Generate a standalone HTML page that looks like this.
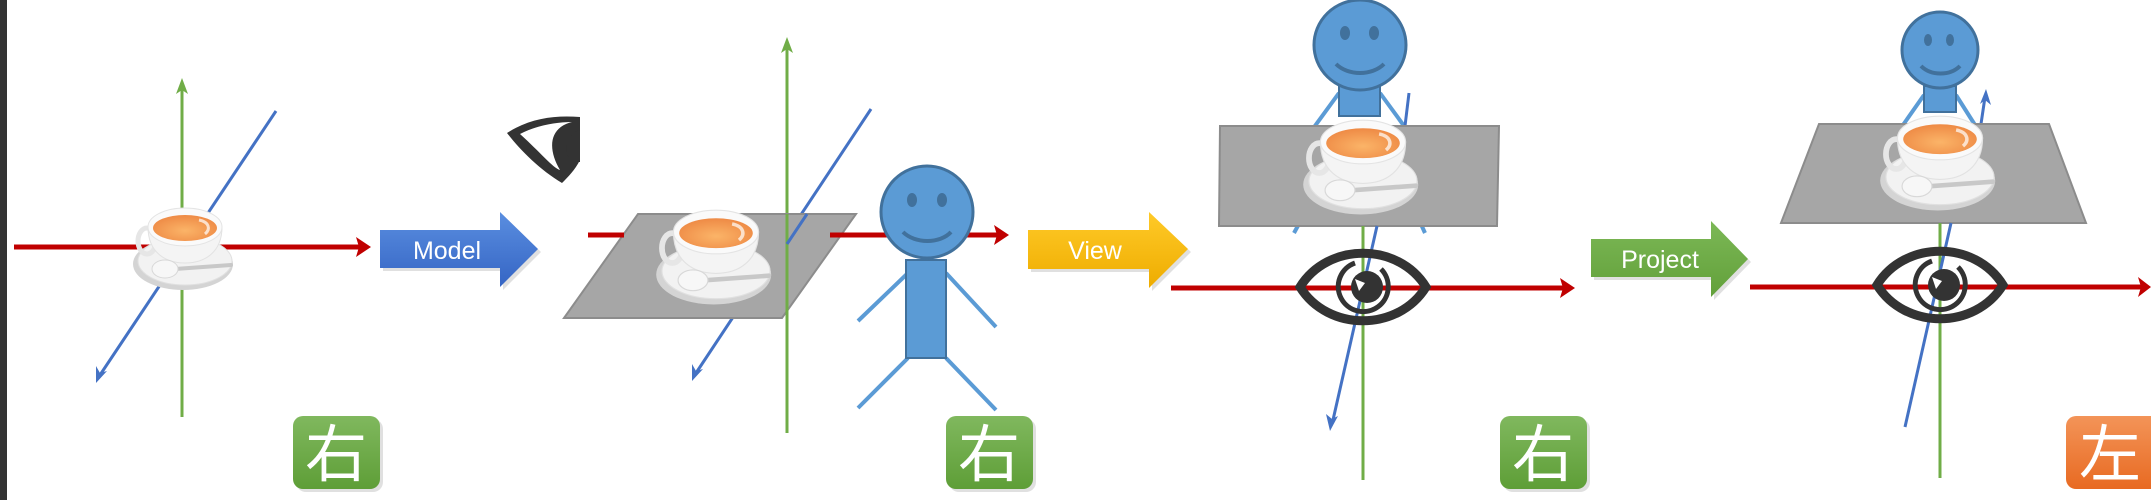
<!DOCTYPE html>
<html><head><meta charset="utf-8"><style>
html,body{margin:0;padding:0;background:#fff}
svg{display:block}
.t{font-family:"Liberation Sans","Noto Sans CJK JP",sans-serif}
</style></head><body>
<svg width="2151" height="500" viewBox="0 0 2151 500" xmlns="http://www.w3.org/2000/svg">
<defs>
<linearGradient id="gb" x1="0" y1="0" x2="0" y2="1"><stop offset="0" stop-color="#5a8ee0"/><stop offset="1" stop-color="#3565c4"/></linearGradient>
<linearGradient id="gy" x1="0" y1="0" x2="0" y2="1"><stop offset="0" stop-color="#ffca28"/><stop offset="1" stop-color="#eeac00"/></linearGradient>
<linearGradient id="gg" x1="0" y1="0" x2="0" y2="1"><stop offset="0" stop-color="#7cb856"/><stop offset="1" stop-color="#62a03a"/></linearGradient>
<linearGradient id="bg" x1="0" y1="0" x2="0" y2="1"><stop offset="0" stop-color="#80b85e"/><stop offset="1" stop-color="#5e9e37"/></linearGradient>
<linearGradient id="bo" x1="0" y1="0" x2="0" y2="1"><stop offset="0" stop-color="#f39458"/><stop offset="1" stop-color="#e86a22"/></linearGradient>
<radialGradient id="tea" cx="0.5" cy="0.6" r="0.6"><stop offset="0" stop-color="#fbb468"/><stop offset="1" stop-color="#ee8a45"/></radialGradient>
<g id="cup">
<ellipse cx="-2" cy="37" rx="50" ry="26" fill="#d4d4d4"/>
<ellipse cx="0" cy="34" rx="47" ry="24" fill="#f2f2f2" stroke="#e0e0e0"/>
<ellipse cx="-38" cy="14" rx="9" ry="13" fill="none" stroke="#e6e6e6" stroke-width="5"/>
<path d="M-37,0 C-37,25 -20,36 0,36 C20,36 37,25 37,0 Z" fill="#f4f4f4" stroke="#e2e2e2"/>
<ellipse cx="0" cy="0" rx="37" ry="19" fill="#fafafa" stroke="#e4e4e4"/>
<ellipse cx="0" cy="1" rx="32" ry="13" fill="url(#tea)"/>
<path d="M14,-7 C24,-5 26,2 20,7" stroke="#fff" stroke-width="3" fill="none" opacity="0.7"/>
<line x1="-10" y1="42" x2="46" y2="38" stroke="#c8c8c8" stroke-width="4" stroke-linecap="round"/>
<ellipse cx="-20" cy="42" rx="13" ry="9" fill="#f7f7f7" stroke="#d8d8d8"/>
</g>
<g id="eye">
<path d="M-63,0 C-35,-45 35,-45 63,0 C35,45 -35,45 -63,0 Z" fill="none" stroke="#333" stroke-width="9"/>
<path d="M-8,-24 A25,25 0 1 0 18,-18" fill="none" stroke="#333" stroke-width="5"/>
<circle cx="4" cy="0" r="16" fill="#333"/>
<path d="M-8,-8 L2,-4 L-4,4 Z" fill="#fff"/>
</g>
</defs>
<rect x="0" y="0" width="7" height="500" fill="#333"/>

<!-- Panel 1 -->
<line x1="182" y1="417" x2="182" y2="88" stroke="#70ad47" stroke-width="3"/>
<path d="M182,78 L176,94 L182,90 L188,94 Z" fill="#70ad47"/>
<line x1="276" y1="111" x2="100" y2="375" stroke="#4472c4" stroke-width="3"/>
<path d="M96,383 L96,366 L100,373 L107,371 Z" fill="#4472c4"/>
<line x1="14" y1="247" x2="360" y2="247" stroke="#c00000" stroke-width="5"/>
<path d="M371,247 L356,237 L359,247 L356,257 Z" fill="#c00000"/>
<use href="#cup" transform="translate(185,227)"/>

<!-- Model arrow -->
<path d="M383,233 L503,233 L503,215 L541,252 L503,290 L503,271 L383,271 Z" fill="#000" opacity="0.12"/>
<path d="M380,230 L500,230 L500,212 L538,249 L500,287 L500,268 L380,268 Z" fill="url(#gb)"/>
<text x="447" y="259" class="t" font-size="25" fill="#fff" text-anchor="middle">Model</text>

<!-- side eye -->
<path d="M507,133 C530,118 555,115 580,117 L580,160 C575,170 568,177 562,183 C540,170 520,150 507,133 Z M520,134 C540,152 553,168 560,170 C548,150 548,128 572,122 C555,122 535,126 520,134 Z" fill="#333" fill-rule="evenodd"/>
<path d="M580,130 C566,134 562,152 572,162 L580,162 Z" fill="#333"/>

<!-- Panel 2 -->
<line x1="787" y1="433" x2="787" y2="47" stroke="#70ad47" stroke-width="3"/>
<path d="M787,37 L781,53 L787,49 L793,53 Z" fill="#70ad47"/>
<line x1="871" y1="109" x2="696" y2="373" stroke="#4472c4" stroke-width="3"/>
<path d="M692,381 L692,364 L696,371 L703,369 Z" fill="#4472c4"/>
<line x1="588" y1="235" x2="1000" y2="235" stroke="#c00000" stroke-width="5"/>
<path d="M1009,235 L994,225 L997,235 L994,245 Z" fill="#c00000"/>
<polygon points="638,214 856,214 782,318 564,318" fill="#a6a6a6" stroke="#8c8c8c" stroke-width="2"/>
<line x1="787" y1="214" x2="787" y2="318" stroke="#70ad47" stroke-width="3"/>
<line x1="807" y1="214" x2="787" y2="244" stroke="#4472c4" stroke-width="3"/>
<line x1="588" y1="235" x2="624" y2="235" stroke="#c00000" stroke-width="5"/>
<line x1="830" y1="235" x2="880" y2="235" stroke="#c00000" stroke-width="5"/>
<use href="#cup" transform="translate(716,232) scale(1.15)"/>
<!-- person -->
<g stroke="#5b9bd5" stroke-width="4">
<line x1="908" y1="273" x2="858" y2="321"/><line x1="946" y1="273" x2="996" y2="327"/>
<line x1="908" y1="358" x2="858" y2="408"/><line x1="946" y1="358" x2="996" y2="410"/>
</g>
<rect x="906" y="260" width="40" height="98" fill="#5b9bd5" stroke="#41719c" stroke-width="2"/>
<ellipse cx="927" cy="212" rx="46" ry="46" fill="#5b9bd5" stroke="#41719c" stroke-width="3"/>
<ellipse cx="912" cy="200" rx="5" ry="7" fill="#41719c"/><ellipse cx="942" cy="200" rx="5" ry="7" fill="#41719c"/>
<path d="M903,232 C915,244 940,244 951,232" fill="none" stroke="#41719c" stroke-width="4"/>

<!-- View arrow -->
<path d="M1031,233 L1152,233 L1152,215 L1191,252 L1152,291 L1152,272 L1031,272 Z" fill="#000" opacity="0.12"/>
<path d="M1028,230 L1149,230 L1149,212 L1188,249 L1149,288 L1149,269 L1028,269 Z" fill="url(#gy)"/>
<text x="1095" y="259" class="t" font-size="25" fill="#fff" text-anchor="middle">View</text>

<!-- Panel 3 -->
<g stroke="#5b9bd5" stroke-width="4">
<line x1="1339" y1="93" x2="1312" y2="130"/><line x1="1380" y1="93" x2="1407" y2="130"/>
<line x1="1300" y1="222" x2="1294" y2="233"/><line x1="1420" y1="222" x2="1425" y2="233"/>
</g>
<rect x="1339" y="86" width="41" height="30" fill="#5b9bd5" stroke="#41719c" stroke-width="2"/>
<ellipse cx="1360" cy="45" rx="46" ry="45" fill="#5b9bd5" stroke="#41719c" stroke-width="3"/>
<ellipse cx="1345" cy="33" rx="5" ry="7" fill="#41719c"/><ellipse cx="1374" cy="33" rx="5" ry="7" fill="#41719c"/>
<path d="M1336,64 C1348,76 1372,76 1384,64" fill="none" stroke="#41719c" stroke-width="4"/>
<line x1="1409" y1="93" x2="1405" y2="126" stroke="#4472c4" stroke-width="3"/>
<polygon points="1220,126 1499,126 1497,226 1219,226" fill="#a6a6a6" stroke="#8c8c8c" stroke-width="2"/>
<use href="#cup" transform="translate(1363,142) scale(1.15)"/>
<line x1="1363" y1="226" x2="1363" y2="480" stroke="#70ad47" stroke-width="3"/>
<line x1="1377" y1="226" x2="1333" y2="420" stroke="#4472c4" stroke-width="3"/>
<path d="M1330,431 L1326,414 L1332,419 L1338,416 Z" fill="#4472c4"/>
<line x1="1171" y1="288" x2="1566" y2="288" stroke="#c00000" stroke-width="5"/>
<path d="M1575,288 L1560,278 L1563,288 L1560,298 Z" fill="#c00000"/>
<use href="#eye" transform="translate(1363,287)"/>

<!-- Project arrow -->
<path d="M1594,242 L1714,242 L1714,224 L1751,262 L1714,300 L1714,280 L1594,280 Z" fill="#000" opacity="0.12"/>
<path d="M1591,239 L1711,239 L1711,221 L1748,259 L1711,297 L1711,277 L1591,277 Z" fill="url(#gg)"/>
<text x="1660" y="268" class="t" font-size="25" fill="#fff" text-anchor="middle">Project</text>

<!-- Panel 4 -->
<g stroke="#5b9bd5" stroke-width="4">
<line x1="1924" y1="95" x2="1903" y2="125"/><line x1="1956" y1="95" x2="1975" y2="125"/>
</g>
<rect x="1924" y="86" width="32" height="26" fill="#5b9bd5" stroke="#41719c" stroke-width="2"/>
<ellipse cx="1940" cy="50" rx="38" ry="38" fill="#5b9bd5" stroke="#41719c" stroke-width="3"/>
<ellipse cx="1928" cy="40" rx="4" ry="6" fill="#41719c"/><ellipse cx="1950" cy="40" rx="4" ry="6" fill="#41719c"/>
<path d="M1921,66 C1931,76 1950,76 1960,66" fill="none" stroke="#41719c" stroke-width="4"/>
<line x1="1985" y1="97" x2="1981" y2="124" stroke="#4472c4" stroke-width="3"/>
<path d="M1986,89 L1980,104 L1985,100 L1991,105 Z" fill="#4472c4"/>
<polygon points="1819,124 2049,124 2086,223 1781,223" fill="#a6a6a6" stroke="#8c8c8c" stroke-width="2"/>
<use href="#cup" transform="translate(1940,138) scale(1.15)"/>
<line x1="1940" y1="223" x2="1940" y2="478" stroke="#70ad47" stroke-width="3"/>
<line x1="1951" y1="223" x2="1905" y2="427" stroke="#4472c4" stroke-width="3"/>
<line x1="1750" y1="287" x2="2142" y2="287" stroke="#c00000" stroke-width="5"/>
<path d="M2151,287 L2138,277 L2141,287 L2138,297 Z" fill="#c00000"/>
<use href="#eye" transform="translate(1940,285)"/>

<!-- badges -->
<g>
<rect x="296" y="419" width="87" height="73" rx="10" fill="#000" opacity="0.12"/>
<rect x="293" y="416" width="87" height="73" rx="10" fill="url(#bg)"/>
<text x="336" y="476" class="t" font-size="62" fill="#fff" text-anchor="middle">右</text>
<rect x="949" y="419" width="87" height="73" rx="10" fill="#000" opacity="0.12"/>
<rect x="946" y="416" width="87" height="73" rx="10" fill="url(#bg)"/>
<text x="989" y="476" class="t" font-size="62" fill="#fff" text-anchor="middle">右</text>
<rect x="1503" y="419" width="87" height="73" rx="10" fill="#000" opacity="0.12"/>
<rect x="1500" y="416" width="87" height="73" rx="10" fill="url(#bg)"/>
<text x="1543" y="476" class="t" font-size="62" fill="#fff" text-anchor="middle">右</text>
<rect x="2066" y="416" width="95" height="73" rx="10" fill="url(#bo)"/>
<text x="2110" y="476" class="t" font-size="62" fill="#fff" text-anchor="middle">左</text>
</g>
</svg>
</body></html>
